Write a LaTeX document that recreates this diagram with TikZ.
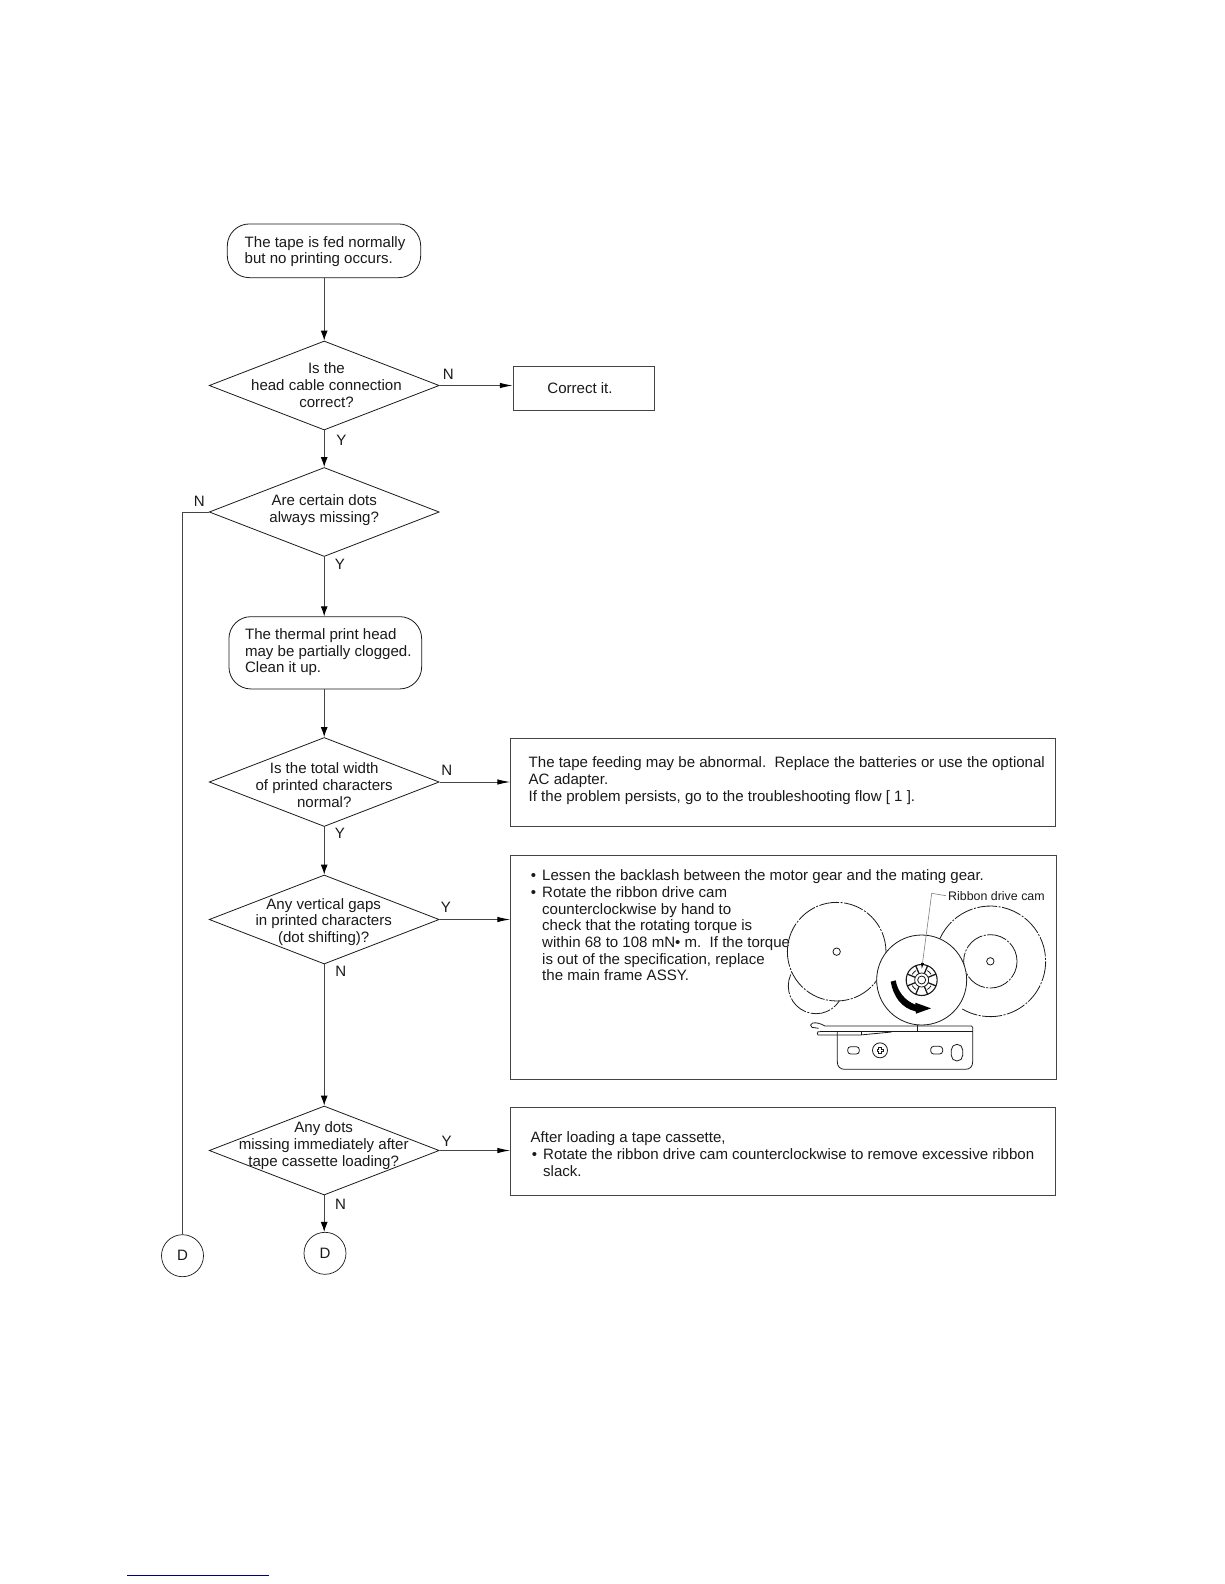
\documentclass[tikz,border=0pt]{standalone}
\usepackage{fontspec}
\setmainfont{Liberation Sans}
\usetikzlibrary{arrows.meta,shapes.geometric}
\definecolor{ink}{HTML}{1A1A1A}
\definecolor{conn}{HTML}{444444}
% text of a decision: #1 right shift, #2 downward shift, #3 lines
\newcommand{\dtext}[3]{\smash{\makebox[0pt]{\hspace*{#1pt}\raisebox{\dimexpr-3.6pt-#2pt\relax}{\begin{tabular}[c]{@{}c@{}}#3\end{tabular}}}}}
% the same, with lines set flush left
\newcommand{\ltext}[3]{\smash{\makebox[0pt]{\hspace*{#1pt}\raisebox{\dimexpr-3.6pt-#2pt\relax}{\begin{tabular}[c]{@{}l@{}}#3\end{tabular}}}}}
\tikzset{
  x=1pt,y=-1pt,
  every node/.style={font=\fontsize{15.05}{16.7}\selectfont,text=ink},
  decision/.style={shape=diamond,draw=ink,line width=0.8pt,inner sep=0pt,minimum width=230pt,minimum height=89pt},
  term/.style={shape=rectangle,draw=ink,line width=0.8pt,rounded corners=22pt,inner sep=0pt},
  box/.style={shape=rectangle,draw=conn,line width=0.9pt,inner sep=0pt},
  boxtext/.style={anchor=north west,inner sep=0pt,align=left},
  flag/.style={inner sep=0pt},
  conn/.style={draw=conn,line width=1pt},
  vflow/.style={conn,-{Latex[length=10pt,width=7pt,color=black]}},
  hflow/.style={conn,-{Latex[length=13pt,width=5.5pt,color=black]}},
  hub/.style={shape=circle,draw=ink,line width=0.7pt,inner sep=0pt,minimum size=42pt},
  part/.style={draw=ink,line width=0.8pt},
  phantom/.style={draw=ink,line width=0.8pt,dash pattern=on 20pt off 1.5pt on 2pt off 1.5pt},
}
\begin{document}
\begin{tikzpicture}
\useasboundingbox (0,0) rectangle (1224,1584);
\fill[white] (0,0) rectangle (1224,1584);

% mechanism figure (coordinates of the 3x crop)
\begin{scope}[x=0.33333pt,y=-0.33333pt,shift={(760pt,-860pt)}]
  \draw[phantom] (168,378) circle[radius=27.7pt];
  \draw[phantom,fill=white] (230,275) circle[radius=49.3pt];
  \draw[part] (230,275) circle[radius=3.7pt];
  \draw[phantom] (691,304) ++(155.4:55.3pt) arc[start angle=155.4,end angle=-120.5,radius=55.3pt];
  \draw[phantom] (691,304) circle[radius=26.7pt];
  \draw[part] (691,304) circle[radius=3.7pt];
  \draw[part,fill=white] (485,360) circle[radius=45pt];
  % cam
  \draw[part,line width=1.1pt] (485,360) circle[radius=15.5pt];
  \draw[part] (485,360) circle[radius=7pt];
  \draw[part] (485,360) circle[radius=4pt];
  \foreach \a in {22.5,67.5,...,337.5}{
    \draw[part,line width=1.3pt] (485,360) ++(\a:7pt) -- ++(\a:8.5pt);
  }
  \foreach \a in {45,135,225,315}{
    \draw[part,line width=0.8pt] (485,360) ++(\a-14:11pt) arc[start angle=\a-14,end angle=\a+14,radius=11pt];
  }
  % rotation arrow
  \fill[black] (392,365) -- (407,361) .. controls (413,395) and (435,422) .. (466,434)
    -- (466,428) -- (513,445) -- (468,461) -- (467,454)
    .. controls (425,445) and (400,410) .. (392,365) -- cycle;
  % bracket
  \draw[part,fill=white] (638,515) -- (638,502) -- (634,498) -- (195,498)
     .. controls (180,490) and (170,487) .. (158,489)
     .. controls (150,492) and (150,498) .. (156,502) -- (176,505);
  \draw[part] (180,515) -- (638,515);
  \draw[part] (180,515) -- (174,515) -- (172,520) -- (174,525) -- (300,525) -- (395,516);
  \draw[part] (472,495) -- (472,515);
  \draw[part] (303,515) -- (303,525);
  \draw[part] (232,515) -- (232,605) .. controls (232,620) and (240,628) .. (255,628)
     -- (615,628) .. controls (630,628) and (638,620) .. (638,605) -- (638,515);
  \draw[part,rounded corners=3pt] (263,560) rectangle (298,582);
  \draw[part,rounded corners=3pt] (512,559) rectangle (548,582);
  \draw[part,rounded corners=5.5pt] (574,553) rectangle (608,603);
  \draw[part] (360,571) circle[radius=7.5pt];
  \draw[part] (352,567) -- (356,567) -- (356,562) -- (364,562) -- (364,567) -- (369,567)
     -- (369,575) -- (364,575) -- (364,580) -- (356,580) -- (356,575) -- (352,575) -- cycle;
\end{scope}

% flow nodes
\node[term,minimum width=193.4pt,minimum height=53.7pt] (start) at (324,250.8)
  {\ltext{2}{1.3}{The tape is fed normally\\but no printing occurs.}};
\node[decision] (d1) at (324.2,385.5) {\dtext{4.5}{1.5}{Is the\\head cable connection\\correct?}};
\node[box,minimum width=141.5pt,minimum height=44pt] (fix) at (584,388) {\hspace*{-8pt}Correct it.};
\node[decision] (d2) at (324.2,512) {\dtext{0}{-1.6}{Are certain dots\\always missing?}};
\node[term,minimum width=192.7pt,minimum height=72.3pt] (clean) at (325.3,652.8)
  {\ltext{6}{0}{The thermal print head\\may be partially clogged.\\Clean it up.}};
\node[decision] (d3) at (324.2,782) {\dtext{0}{5}{Is the total width\\of printed characters\\normal?}};
\node[decision] (d4) at (324.2,919.5) {\dtext{-1}{3}{Any vertical gaps\\in printed characters\\(dot shifting)?}};
\node[decision] (d5) at (324.2,1150.5) {\dtext{-1}{-4.5}{Any dots\\missing immediately after\\tape cassette loading?}};
\node[hub] (cl) at (182.5,1255.7) {D};
\node[hub] (cr) at (325,1253.3) {D};

% boxes
\node[box,anchor=north west,minimum width=545pt,minimum height=88pt] (b3) at (510.3,737.7) {};
\node[box,anchor=north west,minimum width=546pt,minimum height=224pt] (b4) at (510.3,855) {};
\node[box,anchor=north west,minimum width=545pt,minimum height=88pt] (b5) at (510.3,1107) {};
\node[boxtext] (t3) at (528.5,756.5) {The tape feeding may be abnormal.\ \ Replace the batteries or use the optional\\AC adapter.\\If the problem persists, go to the troubleshooting flow [ 1 ].};
\node[boxtext] (t4) at (542,869.5) {\llap{•\hspace{6pt}}Lessen the backlash between the motor gear and the mating gear.\\
\llap{•\hspace{6pt}}Rotate the ribbon drive cam\\counterclockwise by hand to\\check that the rotating torque is\\within 68 to 108 mN• m.\ \ If the torque\\is out of the specification, replace\\the main frame ASSY.};
\node[boxtext] (t5) at (530.5,1131.5) {After loading a tape cassette,\\\hspace*{12.5pt}\llap{•\hspace{6pt}}Rotate the ribbon drive cam counterclockwise to remove excessive ribbon\\\hspace*{12.5pt}slack.};
\node[inner sep=0pt,anchor=west,font=\fontsize{12.4}{14}\selectfont] (camlabel) at (948,895.7) {Ribbon drive cam};

% flags
\node[flag] (n1) at (448.3,374) {N};
\node[flag] (y1) at (341.3,440.7) {Y};
\node[flag] (n2) at (199.3,501.7) {N};
\node[flag] (y2) at (340,564) {Y};
\node[flag] (n3) at (446.7,770) {N};
\node[flag] (y3) at (340,833.3) {Y};
\node[flag] (y4) at (446,907.3) {Y};
\node[flag] (n4) at (340.7,971) {N};
\node[flag] (y5) at (446.6,1140.9) {Y};
\node[flag] (n5) at (340.5,1204.5) {N};

% connectors
\draw[vflow] (d1.north |- start.south) -- (d1.north);
\draw[vflow] (d1.south) -- (d2.north);
\draw[vflow] (d2.south) -- (clean.north -| d2.south);
\draw[vflow] (clean.south -| d3.north) -- (d3.north);
\draw[vflow] (d3.south) -- (d4.north);
\draw[vflow] (d4.south) -- (d5.north -| d4.south);
\draw[vflow] (d5.south) -- (d5.south |- cr.north);
\draw[hflow] (d1.east) -- (d1.east -| fix.west);
\draw[hflow] (d3.east) -- (d3.east -| b3.west);
\draw[hflow] (d4.east) -- (d4.east -| b4.west);
\draw[hflow] (d5.east) -- (d5.east -| b5.west);
\draw[conn] (d2.west) -| (cl.north);

% leader of the cam label
\coordinate (bend) at (931.7,893.3);
\coordinate (camtop) at (921.7,969);
\draw[draw=gray,line width=0.6pt,-{Latex[length=6pt,width=3pt,color=black]}] (camlabel.west) ++(-2,0) -- (bend) -- (camtop);

% rule at the foot of the page
\draw[draw=blue!50!black,line width=1pt] (127,1575.7) -- (269,1575.7);
\end{tikzpicture}
\end{document}
